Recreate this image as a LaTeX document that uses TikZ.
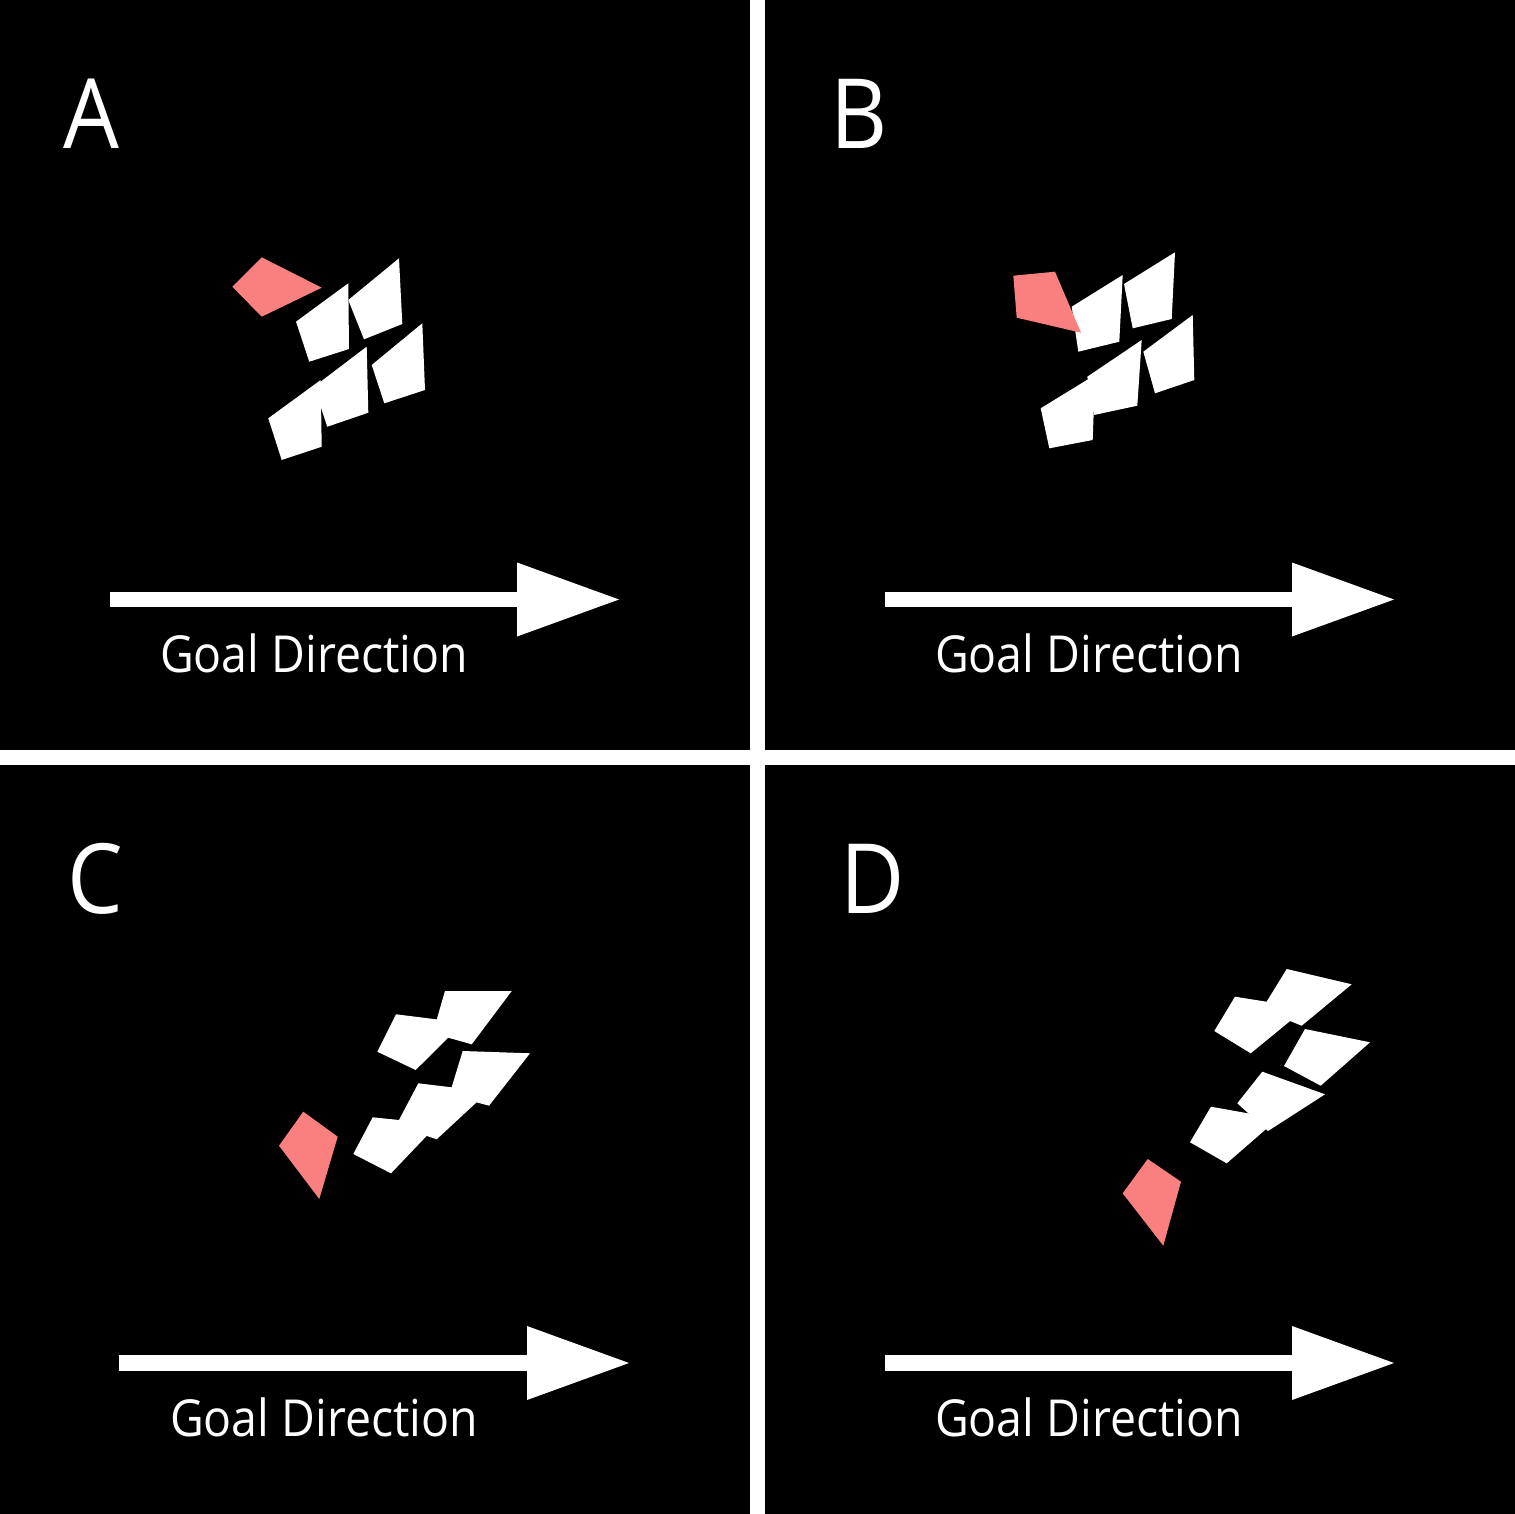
\documentclass[tikz,border=0pt]{standalone}
\usepackage{fontspec}
\setmainfont[FakeStretch=0.91]{Open Sans}
\usetikzlibrary{arrows.meta}
\definecolor{leadred}{RGB}{250,128,128}

\begin{document}
\begin{tikzpicture}[
    x=1pt, y=-1pt,
    panel/.style={fill=black},
    fish/.style={fill=white},
    leader/.style={fill=leadred},
    goal/.style={white, line width=15.6pt,
                 -{Triangle[length=102pt, width=74pt, line width=0pt]}},
    tag/.style={text=white, font=\fontsize{97}{97}\selectfont, anchor=base west, inner sep=0pt},
    caption/.style={text=white, font=\fontsize{51}{51}\selectfont, anchor=base, inner sep=0pt}
]
    % Panels
    \fill[white] (0,0) rectangle (1515,1514);
    \fill[panel] (0,0) rectangle (750,750);
    \fill[panel] (765,0) rectangle (1515,750);
    \fill[panel] (0,765) rectangle (750,1514);
    \fill[panel] (765,765) rectangle (1515,1514);

    % Panel letters
    \node[tag] (tagA) at (63,149) {A};
    \node[tag] (tagB) at (830,149) {B};
    \node[tag] (tagC) at (67,913) {C};
    \node[tag] (tagD) at (840,913) {D};

    % A
    \fill[fish] (296,321.7) -- (348.3,283.3) -- (349,349) -- (309.3,361.7) -- cycle;
    \fill[fish] (348.3,300) -- (399,258.3) -- (402.3,324) -- (364,339.3) -- cycle;
    \fill[fish] (268.3,418.3) -- (320.7,380) -- (321.7,446.7) -- (281.7,460) -- cycle;
    \fill[fish] (314,386.7) -- (366.7,346.7) -- (368.3,412.7) -- (327.3,426.7) -- cycle;
    \fill[fish] (371.7,365) -- (422.3,323.3) -- (425,390) -- (384.3,403.3) -- cycle;
    \fill[leader] (232.3,286.7) -- (261.7,257.3) -- (321.7,287.7) -- (261.7,316.7) -- cycle;

    % B
    \fill[fish] (1071.7,306.7) -- (1122.7,275) -- (1119.3,341.7) -- (1078.3,351.7) -- cycle;
    \fill[fish] (1124,284) -- (1175,252.3) -- (1171.7,319) -- (1132.7,328.3) -- cycle;
    \fill[fish] (1040.7,408.3) -- (1095,375) -- (1092.7,440) -- (1049.3,448.3) -- cycle;
    \fill[fish] (1087.3,376.7) -- (1141.7,340) -- (1137.3,405.7) -- (1094,415) -- cycle;
    \fill[fish] (1143.3,351.7) -- (1192.7,315) -- (1194.3,380) -- (1155,393.3) -- cycle;
    \fill[leader] (1013.3,275.7) -- (1055,271.7) -- (1081,332.7) -- (1016.7,317.7) -- cycle;

    % C
    \fill[fish] (377.3,1051.7) -- (396,1014.3) -- (463.3,1022.7) -- (415.7,1070) -- cycle;
    \fill[fish] (432.7,1033.3) -- (445,991) -- (511.7,991) -- (471.7,1044.3) -- cycle;
    \fill[fish] (353.3,1154) -- (372.7,1117.3) -- (438,1124) -- (391,1173.3) -- cycle;
    \fill[fish] (396,1125.7) -- (418.3,1083.3) -- (488,1091.7) -- (436.7,1139.3) -- cycle;
    \fill[fish] (449.3,1095) -- (462.7,1051) -- (530,1053.3) -- (489,1105.7) -- cycle;
    \fill[leader] (279,1145.7) -- (303.3,1111.7) -- (337.7,1136.7) -- (319.3,1199) -- cycle;

    % D
    \fill[fish] (1214.3,1031) -- (1235,996.7) -- (1306,1008) -- (1250.7,1053.3) -- cycle;
    \fill[fish] (1261.7,1009.7) -- (1286.7,969) -- (1351.7,984.3) -- (1301.7,1025.7) -- cycle;
    \fill[fish] (1284,1066) -- (1305,1029) -- (1370,1042.3) -- (1320.7,1085.7) -- cycle;
    \fill[fish] (1190,1142.3) -- (1211,1106.7) -- (1278,1118.7) -- (1226.7,1163.3) -- cycle;
    \fill[fish] (1237.3,1103.3) -- (1262.3,1071.7) -- (1325,1094.3) -- (1268,1131) -- cycle;
    \fill[leader] (1122.7,1193.3) -- (1147.7,1159) -- (1181,1181.7) -- (1163.3,1245.7) -- cycle;

    % Goal arrows
    \coordinate (tailA) at (110,599.5);
    \coordinate (tipA) at (619,599.5);
    \coordinate (tailB) at (885,599.5);
    \coordinate (tipB) at (1394,599.5);
    \coordinate (tailC) at (119,1363);
    \coordinate (tipC) at (629,1363);
    \coordinate (tailD) at (885,1363);
    \coordinate (tipD) at (1394,1363);
    \draw[goal] (tailA) -- (tipA);
    \draw[goal] (tailB) -- (tipB);
    \draw[goal] (tailC) -- (tipC);
    \draw[goal] (tailD) -- (tipD);

    \node[caption] (goalA) at (314,672) {Goal Direction};
    \node[caption] (goalB) at (1089,672) {Goal Direction};
    \node[caption] (goalC) at (324,1436) {Goal Direction};
    \node[caption] (goalD) at (1089,1436) {Goal Direction};
\end{tikzpicture}
\end{document}
